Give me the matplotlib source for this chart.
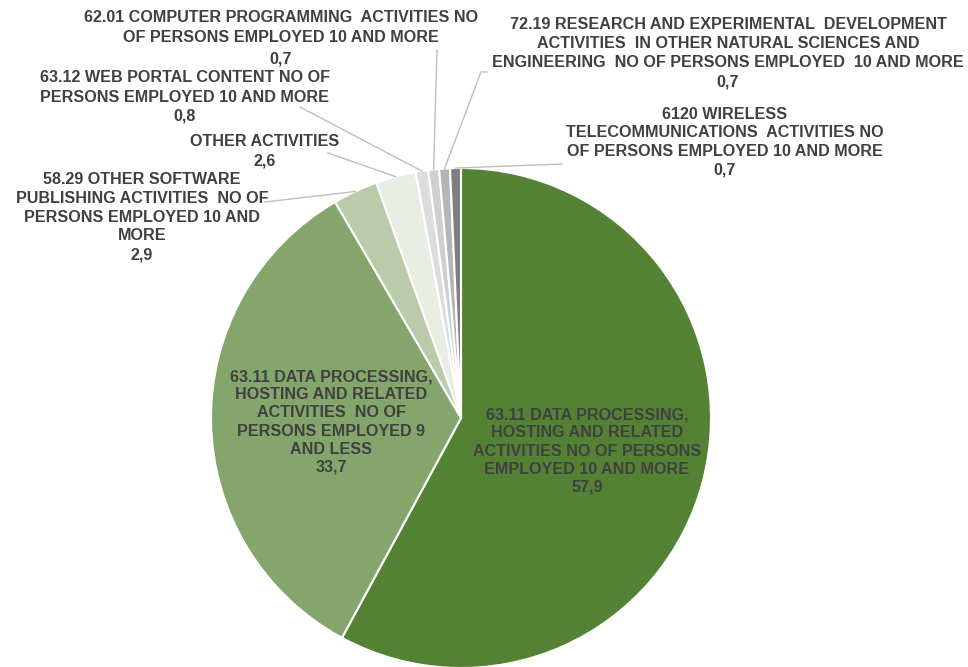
import numpy as np
import matplotlib.pyplot as plt

# data
labels = [
    "63.11 DATA PROCESSING,\nHOSTING AND RELATED\nACTIVITIES NO OF PERSONS\nEMPLOYED 10 AND MORE",
    "63.11 DATA PROCESSING,\nHOSTING AND RELATED\nACTIVITIES  NO OF\nPERSONS EMPLOYED 9\nAND LESS",
    "58.29 OTHER SOFTWARE\nPUBLISHING ACTIVITIES  NO OF\nPERSONS EMPLOYED 10 AND\nMORE",
    "OTHER ACTIVITIES",
    "63.12 WEB PORTAL CONTENT NO OF\nPERSONS EMPLOYED 10 AND MORE",
    "62.01 COMPUTER PROGRAMMING  ACTIVITIES NO\nOF PERSONS EMPLOYED 10 AND MORE",
    "72.19 RESEARCH AND EXPERIMENTAL  DEVELOPMENT\nACTIVITIES  IN OTHER NATURAL SCIENCES AND\nENGINEERING  NO OF PERSONS EMPLOYED  10 AND MORE",
    "6120 WIRELESS\nTELECOMMUNICATIONS  ACTIVITIES NO\nOF PERSONS EMPLOYED 10 AND MORE",
]
values = [57.9, 33.7, 2.9, 2.6, 0.8, 0.7, 0.7, 0.7]
colors = ['#548235', '#84a66c', '#bbcba9', '#e9eee4', '#dcdcdc', '#cfcfcf',
          '#b5b5b5', '#7f7f7f']

W, H = 968, 667
cx, cy, R = 461, 418, 250  # pixel coords, y from top

# label centers (px, y from top) and leader start points
label_pos = [(587, 451), (331, 422), (142, 217), (265, 151),
             (185, 97), (281, 38), (728, 53), (725, 142)]
spacing = [1.27, 1.26, 1.32, 1.35, 1.34, 1.48, 1.34, 1.28]
leader_start = [None, None, [(265, 202)], [(328, 153)], [(300, 107)],
                [(437, 50)], [(487, 72), (481, 72)], [(562, 164)]]

plt.rcParams['font.family'] = ['Liberation Sans', 'DejaVu Sans']

fig = plt.figure(figsize=(W / 100, H / 100), dpi=100)
ax = fig.add_axes([0, 0, 1, 1])

ax.pie(values, colors=colors, startangle=90, counterclock=False,
       center=(cx, H - cy), radius=R,
       wedgeprops=dict(edgecolor='white', linewidth=1.5))
ax.set_xlim(0, W)
ax.set_ylim(0, H)
ax.set_aspect('equal')
ax.axis('off')

total = sum(values)
cum = np.cumsum([0] + values)
for i, (lab, v) in enumerate(zip(labels, values)):
    txt = lab + "\n" + f"{v:.1f}".replace('.', ',')
    lx, ly = label_pos[i]
    ax.text(lx, H - ly, txt, ha='center', va='center', fontsize=11.6,
            fontweight='bold', color='#404040', linespacing=spacing[i])
    if leader_start[i] is not None:
        theta = np.deg2rad((cum[i] + v / 2) / total * 360)
        wx = cx + R * np.sin(theta)
        wy = cy - R * np.cos(theta)
        pts = leader_start[i] + [(wx, wy)]
        ax.plot([p[0] for p in pts], [H - p[1] for p in pts],
                color='#bfbfbf', linewidth=1)

fig.savefig('out.png', dpi=100)
